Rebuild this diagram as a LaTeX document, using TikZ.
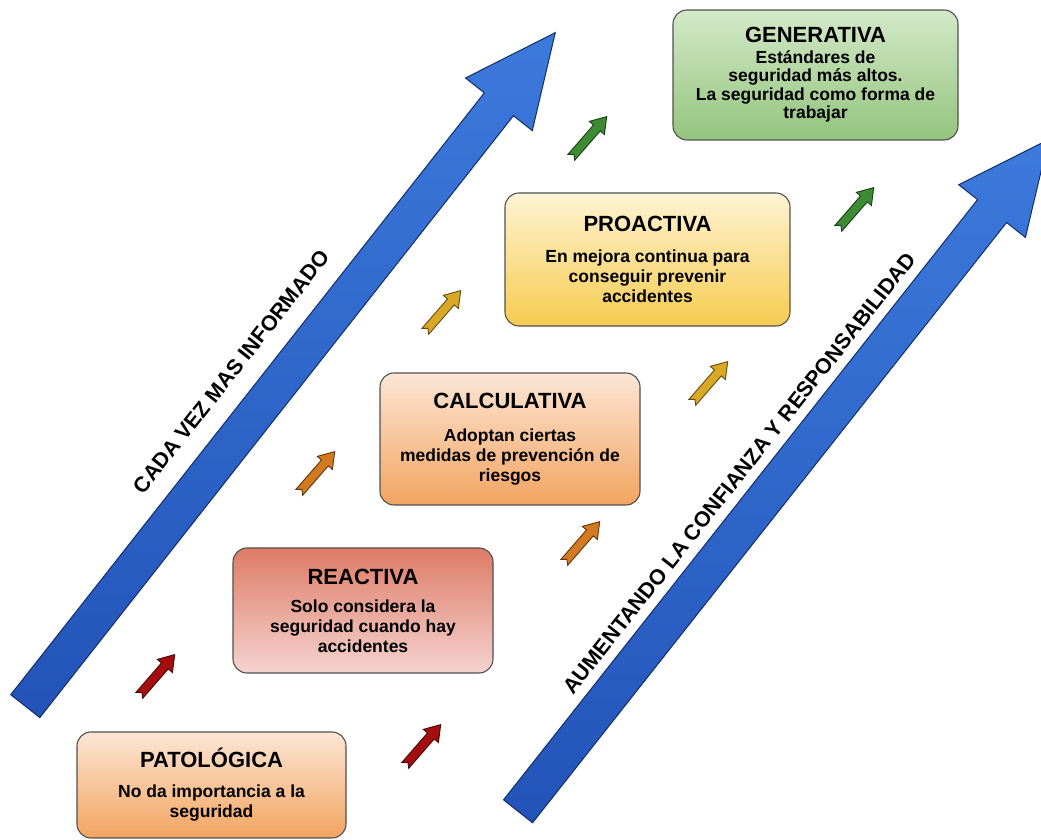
\documentclass[tikz,border=0pt]{standalone}
\usepackage{fontspec}
\setmainfont{Liberation Sans}
\usepackage{tikz}
\usetikzlibrary{shapes.arrows}
\definecolor{kbluelight}{HTML}{3C7ADC}
\definecolor{kbluedark}{HTML}{2353B8}
\definecolor{kline}{HTML}{505050}
\definecolor{kgreentop}{HTML}{D3E9C8}
\definecolor{kgreenbot}{HTML}{93C47D}
\definecolor{kyellowtop}{HTML}{FEF4D4}
\definecolor{kyellowbot}{HTML}{F6CB4F}
\definecolor{kpeachtop}{HTML}{FCE6D5}
\definecolor{kpeachbot}{HTML}{F2A460}
\definecolor{kredtop}{HTML}{DE7B66}
\definecolor{kredbot}{HTML}{F5D3CF}
\definecolor{karrred}{HTML}{A50E0E}
\definecolor{karrorange}{HTML}{D3791F}
\definecolor{karrgold}{HTML}{D9A826}
\definecolor{karrgreen}{HTML}{3D8B32}

\newcommand{\lvltitle}{\fontsize{22}{26}\selectfont\bfseries}
\newcommand{\lvlbody}{\fontsize{17.5}{20}\selectfont\bfseries}

\tikzset{
  level/.style={draw=kline, line width=1.1pt, rounded corners=14pt, align=center,
    font=\lvlbody, inner sep=3pt},
  bigarrow/.style={single arrow, draw=kbluedark!55!black, line width=1pt,
    top color=kbluelight, bottom color=kbluedark, inner xsep=0pt, inner ysep=18pt,
    single arrow head extend=24pt, single arrow tip angle=50, minimum width=84pt},
  biglabel/.style={font=\fontsize{21.5}{26}\selectfont\bfseries, inner sep=0pt},
  stepup/.pic={\path[pic actions, line width=0.9pt, rotate=49]
    (-27,-4.5) -- (12,-4.5) -- (12,-10) -- (27,0) -- (12,10) -- (12,4.5)
    -- (-27,4.5) -- (-23,0) -- cycle;}
}

\begin{document}
\begin{tikzpicture}[x=1pt, y=1pt]
  \useasboundingbox (0,0) rectangle (1041,840);
  \fill[white] (0,0) rectangle (1041,840);

  %% Big arrows and their labels
  \node[bigarrow, minimum height=857, rotate=51.8] (lbig) at (278,455) {};
  \node[bigarrow, minimum height=856, rotate=51.7] (rbig) at (771,349) {};
  \path (lbig.tail) -- (lbig.tip)
    node[biglabel, pos=0.455, sloped, above=37pt] (linfo) {CADA VEZ MAS INFORMADO};
  \path (rbig.tail) -- (rbig.tip)
    node[biglabel, pos=0.47, sloped, above=28pt] (rconf) {AUMENTANDO LA CONFIANZA Y RESPONSABILIDAD};

  %% Levels
  \node[level, top color=kgreentop, bottom color=kgreenbot, minimum width=285, minimum height=130,
    font=\fontsize{17.5}{18.5}\selectfont\bfseries] (gen) at (815.5,765)
    {{\lvltitle GENERATIVA}\\[2pt] Estándares de\\ seguridad más altos.\\ La seguridad como forma de\\ trabajar};
  \node[level, top color=kyellowtop, bottom color=kyellowbot, minimum width=285, minimum height=133]
    (pro) at (647.5,580.5)
    {{\lvltitle PROACTIVA}\\[11pt] En mejora continua para\\ conseguir prevenir\\ accidentes};
  \node[level, top color=kpeachtop, bottom color=kpeachbot, minimum width=260, minimum height=132]
    (cal) at (510,401)
    {{\lvltitle CALCULATIVA}\\[13pt] Adoptan ciertas\\ medidas de prevención de\\ riesgos};
  \node[level, top color=kredtop, bottom color=kredbot, minimum width=260, minimum height=125]
    (rea) at (363,229.5)
    {{\lvltitle REACTIVA}\\[8pt] Solo considera la\\ seguridad cuando hay\\ accidentes};
  \node[level, top color=kpeachtop, bottom color=kpeachbot, minimum width=269, minimum height=106]
    (pat) at (211.5,55)
    {{\lvltitle PATOLÓGICA}\\[10pt] No da importancia a la\\ seguridad};

  %% Small steps
  \foreach \x/\y/\c in {157/165/karrred, 423/95/karrred, 317/368/karrorange, 582/298/karrorange,
                        443/529/karrgold, 710/458/karrgold, 589/703/karrgreen, 856/632/karrgreen}{
    \pic[fill=\c, draw=\c!45!black] at (\x,\y) {stepup};
  }

\end{tikzpicture}
\end{document}
